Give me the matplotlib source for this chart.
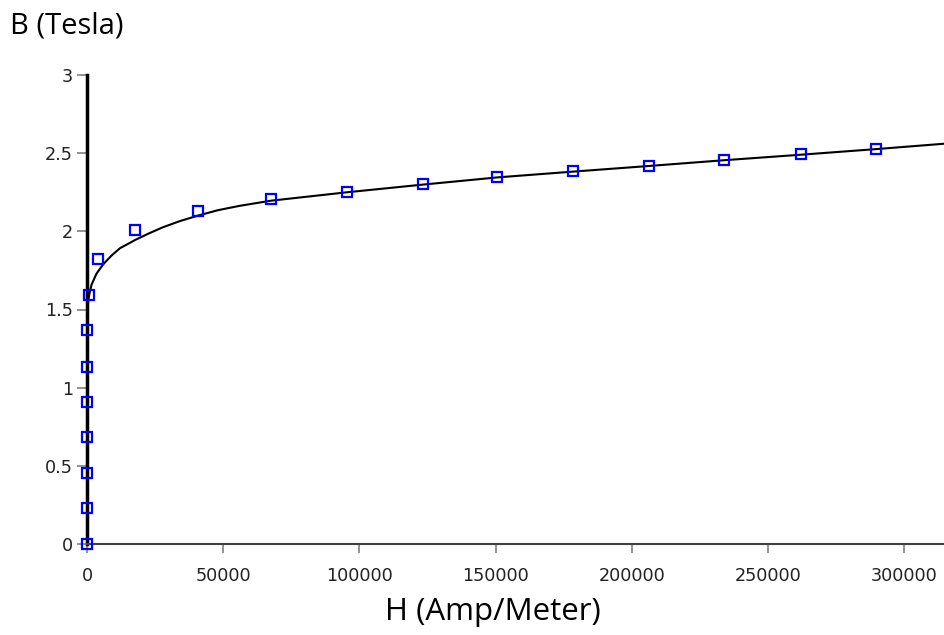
import matplotlib
matplotlib.use("Agg")
import matplotlib.pyplot as plt

# Measured data points (H in A/m, B in Tesla)
H_pts = [0, 0, 0, 0, 0, 0, 0, 850, 4030, 17700, 40600, 67600, 95500,
         123300, 150600, 178400, 206200, 233900, 261900, 289600]
B_pts = [0.0, 0.228, 0.456, 0.683, 0.908, 1.134, 1.369, 1.595, 1.821, 2.011,
         2.133, 2.205, 2.254, 2.301, 2.348, 2.384, 2.420, 2.457, 2.493, 2.529]

# Fitted curve
H_fit = [0, 200, 500, 1000, 1700, 3500, 6000, 9000, 12100, 17700, 22500,
         27700, 34000, 40600, 48000, 56000, 67500, 95500, 123300, 150600,
         178400, 206200, 233900, 261900, 289600, 315000]
B_fit = [1.46, 1.50, 1.56, 1.61, 1.66, 1.73, 1.79, 1.845, 1.892, 1.945, 1.985,
         2.025, 2.065, 2.100, 2.135, 2.163, 2.196, 2.250, 2.299, 2.345,
         2.382, 2.418, 2.455, 2.490, 2.526, 2.561]

x_ticks = [0, 50000, 100000, 150000, 200000, 250000, 300000]
y_ticks = [0, 0.5, 1, 1.5, 2, 2.5, 3]
y_tick_labels = ["0", "0.5", "1", "1.5", "2", "2.5", "3"]

fig = plt.figure(figsize=(9.44, 6.35), dpi=100)
ax = fig.add_axes([87 / 944, 1 - 544 / 635, 1 - 87 / 944, (544 - 75) / 635])

ax.plot(H_fit, B_fit, color="black", lw=1.5, zorder=2, clip_on=False)
ax.plot(H_pts, B_pts, linestyle="none", marker="s", markersize=7,
        markerfacecolor="none", markeredgecolor="#0000FF", markeredgewidth=1.6,
        zorder=3, clip_on=False)

ax.set_xlim(0, 314500)
ax.set_ylim(0, 3)
ax.set_xticks(x_ticks)
ax.set_xticklabels([str(v) for v in x_ticks])
ax.set_yticks(y_ticks)
ax.set_yticklabels(y_tick_labels)

for s in ["top", "right"]:
    ax.spines[s].set_visible(False)
ax.spines["left"].set_linewidth(2.5)
ax.spines["left"].set_color("black")
ax.spines["bottom"].set_linewidth(1.5)
ax.spines["bottom"].set_color("#404040")

ax.tick_params(axis="x", direction="out", length=6.5, width=1.2,
               color="#808080", labelsize=12.7, labelcolor="#222222", pad=10)
ax.tick_params(axis="y", direction="out", length=7.2, width=1.2,
               color="#808080", labelsize=12.7, labelcolor="#222222", pad=3)

fig.text(492.5 / 944, 1 - 620 / 635, "H (Amp/Meter)", fontsize=22.5,
         family="Open Sans", ha="center", va="baseline")
fig.text(10 / 944, 1 - 34 / 635, "B (Tesla)", fontsize=21, family="Open Sans",
         ha="left", va="baseline")

fig.savefig("out.png", dpi=100)
